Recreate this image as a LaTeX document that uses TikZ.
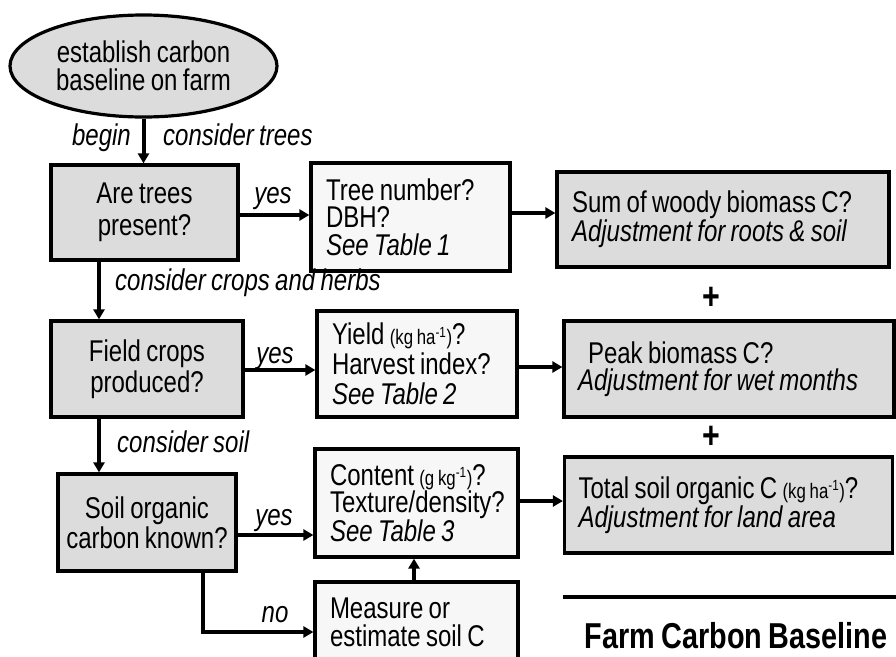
\documentclass[tikz,border=0pt]{standalone}
\usepackage{fontspec}
\setmainfont{Liberation Sans}[FakeStretch=0.8, WordSpace=0.8]
\usetikzlibrary{arrows.meta,shapes.geometric}
\definecolor{boxgray}{HTML}{DCDCDC}
\definecolor{boxlight}{HTML}{F7F7F7}
\newcommand{\unitsz}[1]{{\fontsize{21}{21}\selectfont #1}}
\begin{document}
\begin{tikzpicture}[x=1pt,y=-1pt,
  base/.style={draw=black, line width=3.2pt, inner sep=0pt},
  qbox/.style={base, fill=boxgray, align=center, font=\fontsize{30}{31}\selectfont},
  lbox/.style={base, fill=boxlight, align=left, inner xsep=15pt, inner ysep=0pt, font=\fontsize{30}{27.5}\selectfont,
     execute at begin node={\spaceskip=0pt\xspaceskip=0pt\relax}},
  rbox/.style={base, fill=boxgray, align=left, inner xsep=14pt, inner ysep=0pt, font=\fontsize{30}{27.5}\selectfont,
     execute at begin node={\spaceskip=0pt\xspaceskip=0pt\relax}},
  arr/.style={line width=4pt, -{Triangle[length=10pt,width=11pt]}},
  lbl/.style={inner sep=0pt, font=\itshape\fontsize{30}{30}\selectfont},
  plus/.style={inner sep=0pt, font=\bfseries\fontsize{38}{38}\selectfont}
]
\useasboundingbox (0,0) rectangle (896,656);

% start ellipse
\node[ellipse, base, fill=boxgray, minimum width=267pt, minimum height=102pt, align=center,
      font=\fontsize{30}{27.5}\selectfont] (start) at (143.5,66) {establish carbon\\baseline on farm};

% question boxes
\node[qbox, minimum width=187pt, minimum height=95pt, font=\fontsize{30}{32}\selectfont] (q1) at (144.5,212.5) {Are trees\\present?};
\node[qbox, minimum width=192pt, minimum height=96pt] (q2) at (147,369) {Field crops\\produced?};
\node[qbox, minimum width=178pt, minimum height=97pt, font=\fontsize{30}{30}\selectfont] (q3) at (147,522.5) {Soil organic\\carbon known?};

% detail boxes
\node[lbox, text width=169pt, minimum height=108pt] (t1) at (410.5,217)
  {Tree number?\\DBH?\\\textit{See Table 1}};
\node[lbox, text width=170pt, minimum height=106pt, font=\fontsize{30}{30}\selectfont] (t2) at (417,364)
  {Yield \unitsz{(kg ha\textsuperscript{-1})}?\\Harvest index?\\\textit{See Table 2}};
\node[lbox, text width=173pt, minimum height=108pt] (t3) at (416.5,503)
  {Content \unitsz{(g kg\textsuperscript{-1})}?\\Texture/density?\\\textit{See Table 3}};
\node[lbox, text width=173pt, minimum height=80pt, font=\fontsize{30}{28}\selectfont] (m) at (416.5,622)
  {Measure or\\estimate soil C};

% result boxes
\node[rbox, text width=302pt, minimum height=95pt, inner xsep=15pt] (r1) at (723,219.5)
  {Sum of woody biomass C?\\\textit{Adjustment for roots \& soil}};
\node[rbox, text width=302pt, minimum height=96pt] (r2) at (729,369)
  {\hspace{10pt}Peak biomass C?\\\textit{Adjustment for wet months}};
\node[rbox, text width=300pt, minimum height=96pt] (r3) at (728.5,505)
  {Total soil organic C \unitsz{(kg ha\textsuperscript{-1})}?\\\textit{Adjustment for land area}};

\node[plus] (p1) at (711,298) {+};
\node[plus] (p2) at (711,437) {+};

% connectors
\draw[arr] (start.south) -- (start.south |- q1.north);
\draw[arr] ([yshift=-2.5pt]q1.east) -- ([yshift=-2.5pt]q1.east -| t1.west);
\draw[arr] ([yshift=4pt]t1.east) -- ([yshift=4pt]t1.east -| r1.west);
\draw[arr] ([xshift=-45.5pt]q1.south) -- ([xshift=-45.5pt]q1.south |- q2.north);
\draw[arr] ([yshift=-1pt]q2.east) -- ([yshift=-1pt]q2.east -| t2.west);
\draw[arr] ([yshift=-3pt]t2.east) -- ([yshift=-3pt]t2.east -| r2.west);
\draw[arr] ([xshift=-48pt]q2.south) -- ([xshift=-48pt]q2.south |- q3.north);
\draw[arr] ([yshift=-12.5pt]q3.east) -- ([yshift=-12.5pt]q3.east -| t3.west);
\draw[arr] ([yshift=2pt]t3.east) -- ([yshift=2pt]t3.east -| r3.west);
\draw[arr] ([xshift=56pt]q3.south) |- ([yshift=-10pt]m.west);
\draw[arr] ([xshift=-2.5pt]m.north) -- ([xshift=-2.5pt]m.north |- t3.south);

% labels
\node[lbl, anchor=base east] (lbegin) at (131,145) {begin};
\node[lbl, anchor=base west] (ltrees) at (163,145) {consider trees};
\node[lbl, anchor=base] (lyes1) at (273,203) {yes};
\node[lbl, anchor=base west] (lcrops) at (115,290) {consider crops and herbs};
\node[lbl, anchor=base] (lyes2) at (275,363) {yes};
\node[lbl, anchor=base west] (lsoil) at (117,452) {consider soil};
\node[lbl, anchor=base] (lyes3) at (274,525) {yes};
\node[lbl, anchor=base] (lno) at (275,622) {no};

% footer
\coordinate (ruleL) at (563,597);
\coordinate (ruleR) at (897,597);
\draw[line width=4pt] (ruleL) -- (ruleR);
\node[inner sep=0pt, font=\bfseries\fontsize{36}{36}\selectfont] (title) at (736,636) {Farm Carbon Baseline};
\end{tikzpicture}
\end{document}
